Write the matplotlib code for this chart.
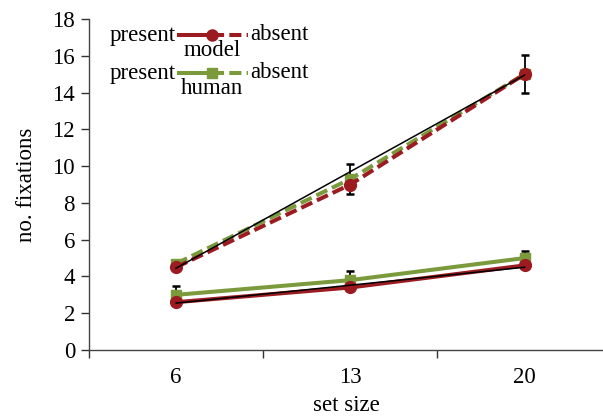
import matplotlib
matplotlib.use("Agg")
import matplotlib.pyplot as plt
from matplotlib.lines import Line2D

plt.rcParams['font.family'] = ['Liberation Serif', 'DejaVu Serif']
plt.rcParams['font.size'] = 16.5

# data
set_sizes = ['6', '13', '20']
model_present = [2.6, 3.4, 4.6]
model_absent = [4.5, 9.0, 15.0]
human_present = [3.0, 3.8, 5.0]
human_absent = [4.7, 9.3, 15.0]
human_present_err = [0.5, 0.5, 0.4]
human_absent_err = [0.2, 0.8, 1.05]
# linear fits (endpoints at set size 6 and 20)
fit_present = [2.55, 4.5]
fit_absent = [4.45, 14.95]

red = '#9b1b20'
green = '#7a9a3c'
lw = 2.9
dash = (3, 1.3)

fig = plt.figure(figsize=(6.03, 4.16), dpi=100)
ax = fig.add_axes([89 / 603, 1 - 350 / 416, 1 - 89 / 603, (350 - 19) / 416])

x = [1, 2, 3]

# error bars (behind the lines)
ax.errorbar(x, human_present, yerr=human_present_err, fmt='none', ecolor='black',
            elinewidth=1.3, capsize=2.7, capthick=1.8, zorder=1)
ax.errorbar(x, human_absent, yerr=human_absent_err, fmt='none', ecolor='black',
            elinewidth=1.3, capsize=2.7, capthick=1.8, zorder=1)

# human (green, squares)
ax.plot(x, human_present, color=green, lw=lw, marker='s', ms=7, zorder=2)
ax.plot(x, human_absent, color=green, lw=lw, dashes=dash, marker='s', ms=7, zorder=2)
# model (red, circles)
ax.plot(x, model_present, color=red, lw=lw, marker='o', ms=8.5, zorder=3)
ax.plot(x, model_absent, color=red, lw=lw, dashes=dash, marker='o', ms=8.5, zorder=3)

# fit lines
ax.plot([1, 3], fit_present, color='black', lw=1.1, zorder=4)
ax.plot([1, 3], fit_absent, color='black', lw=1.1, zorder=4)

ax.set_xlim(0.5, 3.45)
ax.set_ylim(0, 18)
ax.set_yticks(range(0, 19, 2))
ax.set_xticks([0.5, 1.5, 2.5])
ax.set_xticklabels([])
ax.set_xticks(x, minor=True)
ax.set_xticklabels(set_sizes, minor=True)
ax.tick_params(axis='x', which='minor', length=0, pad=12)
ax.tick_params(axis='both', which='major', length=6, width=1, color='#333333')
ax.tick_params(axis='y', pad=4)

for s in ['top', 'right']:
    ax.spines[s].set_visible(False)
for s in ['left', 'bottom']:
    ax.spines[s].set_color('#444444')
    ax.spines[s].set_linewidth(1)

ax.set_ylabel('no. fixations', labelpad=11)
ax.set_xlabel('set size', labelpad=5)

# hand-built legend in pixel coordinates
def px(xp, yp):
    return xp / 603, 1 - yp / 416

def legend_row(yp, label, color, marker, ms):
    fig.text(*px(176, yp), 'present', ha='right', va='center', fontsize=16.5)
    fig.add_artist(Line2D([179 / 603, 212 / 603], [1 - yp / 416] * 2, color=color, lw=lw))
    fig.add_artist(Line2D([212 / 603, 248 / 603], [1 - yp / 416] * 2, color=color, lw=lw,
                          dashes=dash))
    fig.add_artist(Line2D([212 / 603], [1 - yp / 416], color=color, marker=marker, ms=ms,
                          lw=0))
    fig.text(*px(250, yp), 'absent', ha='left', va='center', fontsize=16.5)
    fig.text(*px(212, yp + 16), label, ha='center', va='center', fontsize=16.5)

legend_row(35, 'model', red, 'o', 8)
legend_row(73, 'human', green, 's', 7)

fig.savefig('out.png', dpi=100)
